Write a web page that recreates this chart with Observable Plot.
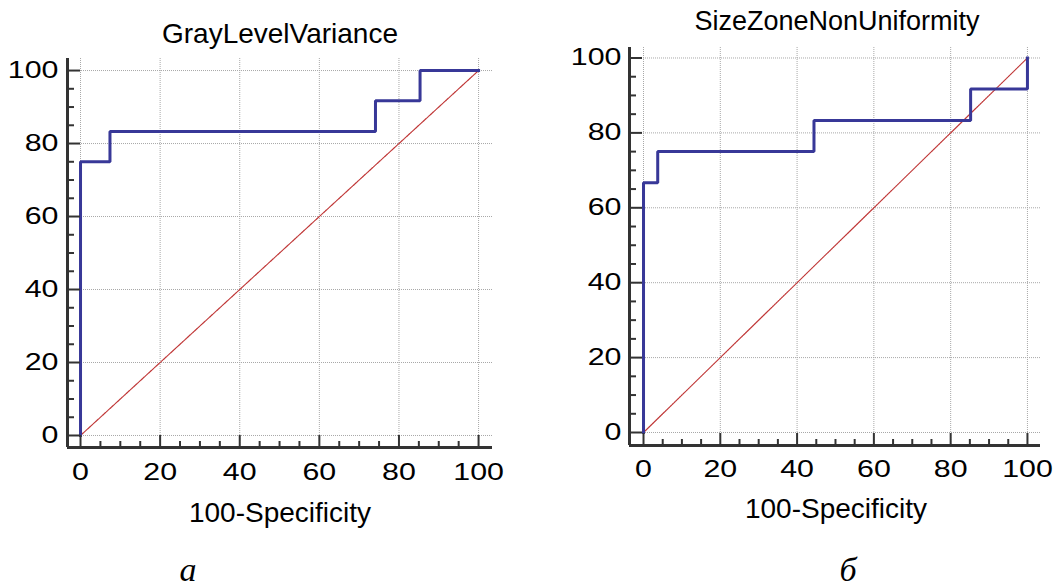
<!DOCTYPE html>
<html><head><meta charset="utf-8">
<script src="https://cdn.jsdelivr.net/npm/d3@7"></script>
<script src="https://cdn.jsdelivr.net/npm/@observablehq/plot@0.6"></script>
<style>
body{margin:0;background:#fff;}
#wrap{position:relative;width:1058px;height:588px;overflow:hidden;background:#fff;}
#wrap > svg{position:absolute;top:0;}
</style></head><body><div id="wrap"></div>
<script>
// ---- data ----
const titles = ["GrayLevelVariance", "SizeZoneNonUniformity"];
const panelLetters = ["а", "б"];
const xLabel = "100-Specificity";
const majorTicks = [0, 20, 40, 60, 80, 100];
const minorTicks = [5, 10, 15, 25, 30, 35, 45, 50, 55, 65, 70, 75, 85, 90, 95];
// ROC vertices (100-Specificity, Sensitivity), drawn as step-after
const fprA = [0, 0, 7.4, 74.1, 85.3, 100];
const tprA = [0, 75, 83.3, 91.7, 100, 100];
const fprB = [0, 0, 3.7, 44.4, 85.2, 100, 100];
const tprB = [0, 66.7, 75, 83.3, 91.7, 91.7, 100];
const diagX = [0, 100];
const diagY = [0, 100];

// ---- layout ----
const panels = [
  {left: 0, width: 529, mL: 67, mR: 37, mT: 58, mB: 141,
   xDomain: [-3.27, 103.5], yDomain: [-3.29, 103.3], fpr: fprA, tpr: tprA, xPad: 16, yPad: 9,
   title: {x: 280, y: 43, size: 28}, xlab: {x: 280, y: 522}, letter: {x: 188, y: 581}},
  {left: 529, width: 529, mL: 100, mR: 18, mT: 47, mB: 143,
   xDomain: [-3.65, 103.4], yDomain: [-3.47, 102.8], fpr: fprB, tpr: tprB, xPad: 15, yPad: 8,
   title: {x: 837, y: 30, size: 27}, xlab: {x: 836, y: 518}, letter: {x: 848, y: 581}}
];

const wrap = document.getElementById("wrap");
const axisColor = "#333";
const noText = () => "";

panels.forEach((p, i) => {
  const roc = p.fpr.map((x, j) => ({fpr: x, tpr: p.tpr[j]}));
  const diag = diagX.map((x, j) => ({fpr: x, tpr: diagY[j]}));
  const chart = Plot.plot({
    width: p.width, height: 588,
    marginLeft: p.mL, marginRight: p.mR, marginTop: p.mT, marginBottom: p.mB,
    x: {domain: p.xDomain, label: null},
    y: {domain: p.yDomain, label: null},
    style: {fontFamily: "'Liberation Sans', Arial, sans-serif", fontSize: "23px", color: "#000", background: "transparent", overflow: "visible"},
    marks: [
      Plot.gridX(majorTicks, {stroke: "#a8a8a8", strokeOpacity: 1, strokeDasharray: "1,1", strokeWidth: 1}),
      Plot.gridY(majorTicks, {stroke: "#a8a8a8", strokeOpacity: 1, strokeDasharray: "1,1", strokeWidth: 1}),
      Plot.line(diag, {x: "fpr", y: "tpr", stroke: "#c03838", strokeWidth: 1.2, strokeDasharray: "1.5,1"}),
      Plot.line(roc, {x: "fpr", y: "tpr", curve: "step-after", stroke: "#383898", strokeWidth: 3, strokeLinejoin: "miter", strokeLinecap: "square"}),
      Plot.ruleX([p.xDomain[0]], {stroke: axisColor, strokeWidth: 3}),
      Plot.ruleY([p.yDomain[0]], {stroke: axisColor, strokeWidth: 3}),
      Plot.axisX(majorTicks, {anchor: "bottom", tickSize: 12, dy: -12, tickFormat: noText, stroke: axisColor, strokeWidth: 2, label: null}),
      Plot.axisX(minorTicks, {anchor: "bottom", tickSize: 6, dy: -6, tickFormat: noText, stroke: axisColor, strokeWidth: 2, label: null}),
      Plot.axisY(majorTicks, {anchor: "left", tickSize: 13, dx: 13, tickFormat: noText, stroke: axisColor, strokeWidth: 2, label: null}),
      Plot.axisY(minorTicks, {anchor: "left", tickSize: 7, dx: 7, tickFormat: noText, stroke: axisColor, strokeWidth: 2, label: null}),
      Plot.axisX(majorTicks, {anchor: "bottom", tickSize: 0, tickPadding: p.xPad, fontSize: 23, label: null}),
      Plot.axisY(majorTicks, {anchor: "left", tickSize: 0, tickPadding: p.yPad, fontSize: 23, label: null})
    ]
  });
  chart.style.position = "absolute";
  chart.style.left = p.left + "px";
  chart.style.top = "0px";
  wrap.appendChild(chart);
  // widen tick label glyphs like the reference
  chart.querySelectorAll('g[aria-label="x-axis tick label"] text, g[aria-label="y-axis tick label"] text').forEach(el => {
    const t = el.getAttribute("transform") || "";
    const x = +el.getAttribute("x") || 0;
    el.setAttribute("transform", `${t} translate(${x},0) scale(1.32,1) translate(${-x},0)`);
  });
});

// titles, axis titles and panel letters
const overlay = d3.select(wrap).append("svg")
  .attr("width", 1058).attr("height", 588)
  .style("position", "absolute").style("left", "0px").style("top", "0px");
panels.forEach((p, i) => {
  overlay.append("text").attr("x", p.title.x).attr("y", p.title.y)
    .attr("text-anchor", "middle").attr("font-family", "'Liberation Sans', Arial, sans-serif")
    .attr("font-size", p.title.size).attr("fill", "#000").text(titles[i]);
  overlay.append("text").attr("x", p.xlab.x).attr("y", p.xlab.y)
    .attr("text-anchor", "middle").attr("font-family", "'Liberation Sans', Arial, sans-serif")
    .attr("font-size", 28).attr("fill", "#000").text(xLabel);
  overlay.append("text").attr("x", p.letter.x).attr("y", p.letter.y)
    .attr("text-anchor", "middle").attr("font-family", "'Liberation Serif', 'Times New Roman', serif")
    .attr("font-style", "italic").attr("font-size", 34).attr("fill", "#000").text(panelLetters[i]);
});
</script>
</body></html>
